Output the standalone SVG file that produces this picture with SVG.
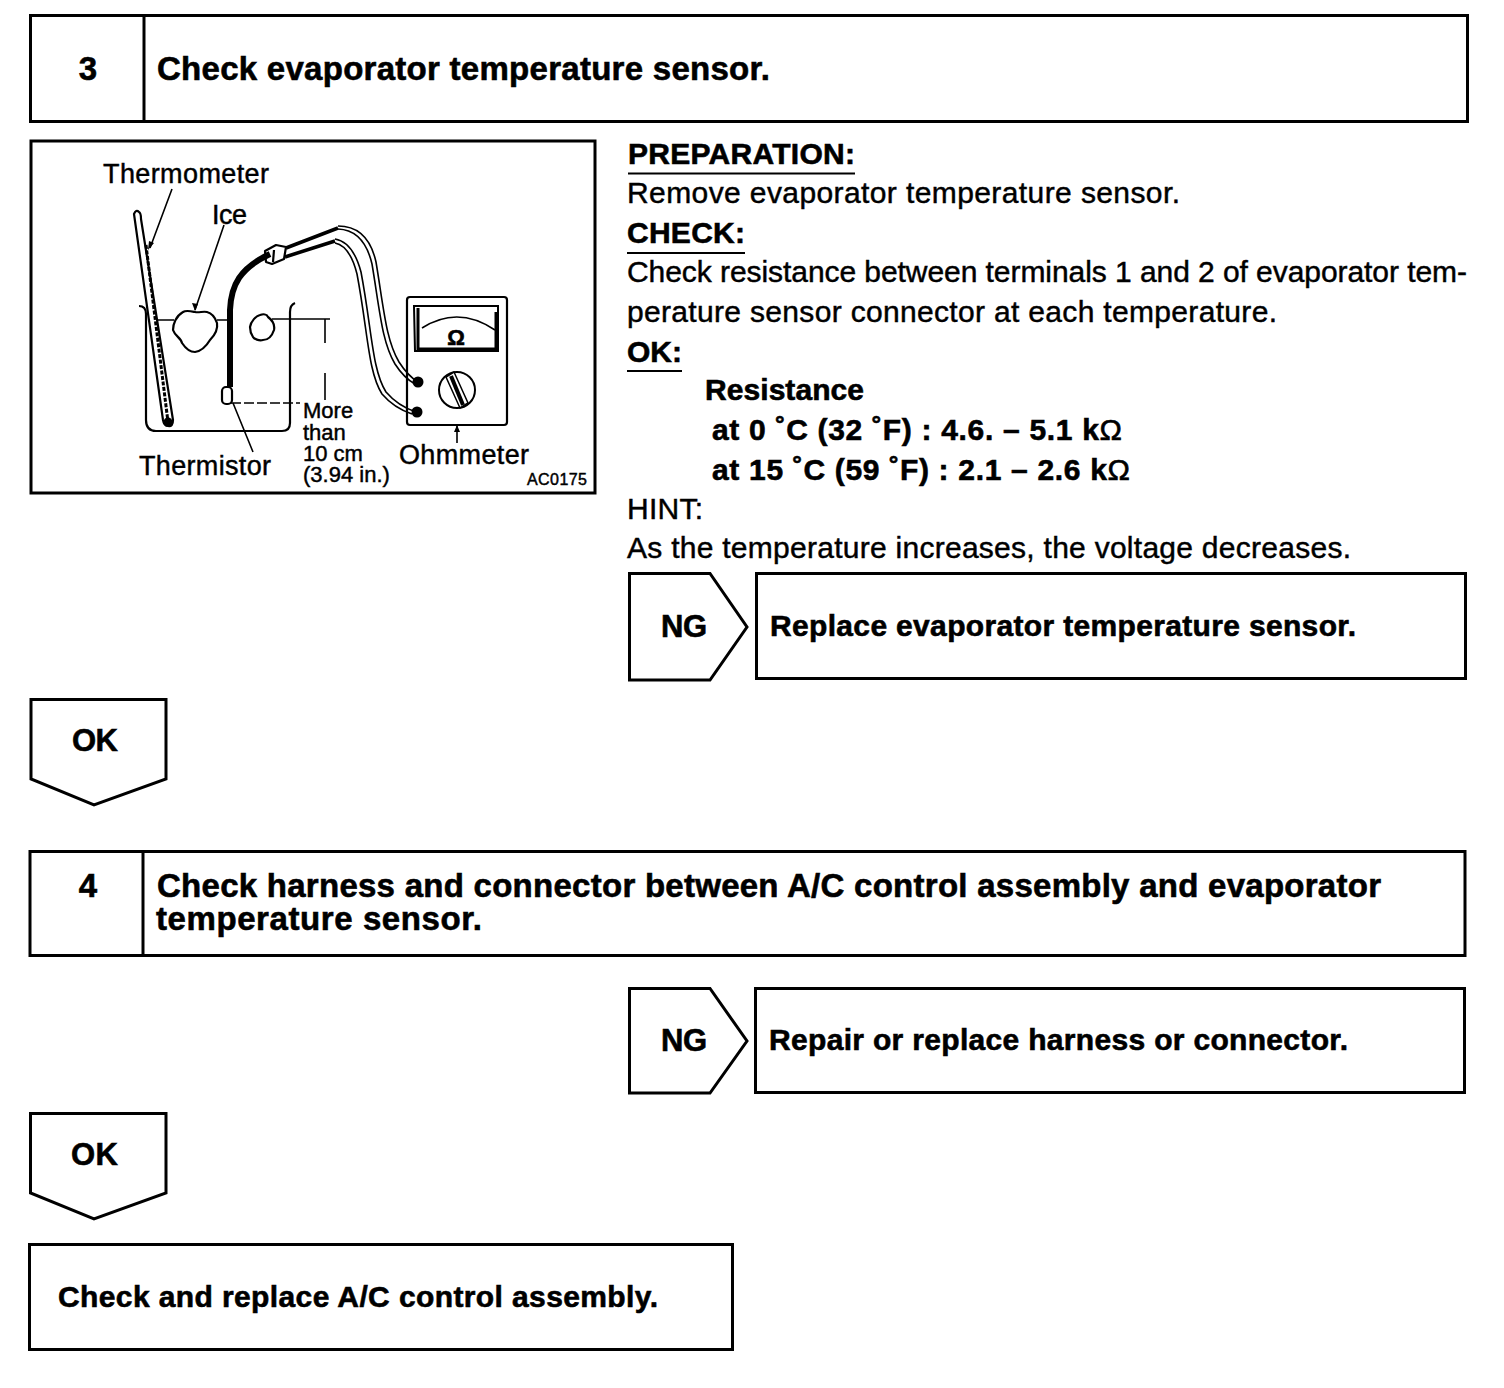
<svg xmlns="http://www.w3.org/2000/svg" width="1504" height="1388" viewBox="0 0 1504 1388">
<style>
text{font-family:"Liberation Sans",Arial,sans-serif;fill:#000;stroke:#000;stroke-width:.45}
.b{font-weight:700;stroke-width:.6}
.t{font-size:33px}
.r{font-size:30px}
.k{font-size:31px}
.s{font-size:27px}
.m{font-size:22px}
.box{fill:#fff;stroke:#000;stroke-width:3}
.thin{fill:none;stroke:#000;stroke-width:1.6}
.med{fill:none;stroke:#000;stroke-width:2.2;stroke-linejoin:round}
.u{stroke:#000;stroke-width:2}
.g{font-weight:400}
</style>
<rect width="1504" height="1388" fill="#fff"/>

<g id="step3">
<rect class="box" x="30.5" y="15.5" width="1437" height="106"/>
<line class="box" x1="144" y1="15" x2="144" y2="122"/>
<text class="b t" x="88" y="80" text-anchor="middle">3</text>
<text class="b t" x="157" y="80" textLength="613">Check evaporator temperature sensor.</text>
</g>

<g id="illustration">
<rect class="box" x="31" y="141" width="564" height="352"/>
<path class="med" d="M134 214 Q136 209 139 212 Q141 213 141 219 L173 420 Q173 427 168 426 Q164 426 163 420 Z" />
<path d="M146 245 L168 422" fill="none" stroke="#000" stroke-width="3" stroke-dasharray="4 1.5"/>
<circle cx="168" cy="422" r="4.5"/>
<path class="med" d="M139 306 Q146 306 146 314 L146 420 Q146 431 156 431 L282 431 Q290 431 290 423 L290 312 Q290 305 295 303"/>
<path class="thin" d="M158 320 H174 M217 320 H229 M272 319 H330"/>
<path class="med" d="M195 312 C190 311 186 310 183 312 C176 316 173 324 173 330 C175 336 181 338 182 343 C186 349 191 352 195 352 C202 351 207 345 210 340 C215 335 218 329 217 323 C215 317 211 313 207 312 C203 311 199 313 195 312 Z"/>
<path class="med" d="M250 327 C251 321 256 316 260 315 C263 314 267 314 268 317 C272 320 275 325 274 330 C272 336 268 340 263 340 C259 341 254 339 253 337 C251 334 250 331 250 327 Z"/>
<path d="M230 387 L230 310 C231 285 240 268 270 254" fill="none" stroke="#000" stroke-width="6"/>
<rect class="med" x="222" y="387" width="10" height="17" rx="4" fill="#fff"/>
<path class="med" d="M265 251 L276 245 L286 247 L284 259 L272 264 L266 262 Z M274 250 L273 262" fill="#fff"/>
<path d="M286 248 L338 228 M285 257 L335 241" fill="none" stroke="#000" stroke-width="3.500"/>
<path class="thin" d="M338 226 Q368 226 376 262 C384 310 386 340 399 362 Q408 376 418 382"/>
<path class="thin" d="M338 229 Q364 230 372 264 C380 312 382 342 395 364 Q404 378 415 384"/>
<path class="thin" d="M335 239 Q353 242 361 272 C372 330 372 370 386 392 Q398 406 416 412"/>
<path class="thin" d="M335 243 Q350 246 357 274 C368 332 368 372 382 394 Q394 408 412 414"/>
<rect class="med" x="407" y="297" width="100" height="128" rx="3"/>
<path d="M414 306 H498 V351 H415 Z" fill="none" stroke="#000" stroke-width="2"/>
<path d="M418 308 V349 H496 V312" fill="none" stroke="#000" stroke-width="3"/>
<path class="thin" d="M422 328 Q458 305 495 330"/>
<circle cx="418" cy="382" r="5.500"/>
<circle cx="417" cy="412" r="5.500"/>
<circle cx="457" cy="390" r="18" fill="#fff" stroke="#000" stroke-width="2"/>
<path d="M446 377 L454 372 L468 403 L460 408 Z" fill="#fff" stroke="#000" stroke-width="1.500"/>
<line x1="451" y1="376" x2="463" y2="405" stroke="#000" stroke-width="4"/>
<text class="b" style="font-size:22px" x="456" y="345" text-anchor="middle">Ω</text>
<path class="thin" d="M231 403 H300" stroke-dasharray="10 3"/>
<text class="s" x="103" y="183" textLength="166">Thermometer</text>
<text class="s" x="212" y="224" textLength="35">Ice</text>
<text class="s" x="139" y="475" textLength="132">Thermistor</text>
<text class="s" x="399" y="464" textLength="130">Ohmmeter</text>
<text class="m"><tspan x="303" y="418">More</tspan><tspan x="303" y="440">than</tspan><tspan x="303" y="461">10 cm</tspan><tspan x="303" y="482">(3.94 in.)</tspan></text>
<text style="font-size:16px" x="527" y="485" textLength="60">AC0175</text>
</g>

<g id="connectors">
<path class="thin" d="M172 189 L150 248 M224 225 L195 310 M233 403 L253 452 M325 319 V343 M325 373 V400 M457 426 V443"/>
<path d="M195 311 L192 303 L198 304 Z M457 425 L454 432 L460 432 Z M148 250 L149 241 L154 243 Z"/>
</g>

<g id="instructions">
<text class="b r" x="628" y="164" textLength="227">PREPARATION:</text>
<line class="u" x1="628" y1="173.500" x2="855" y2="173.500"/>
<text class="r" x="627" y="203" textLength="553">Remove evaporator temperature sensor.</text>
<text class="b r" x="627" y="243" textLength="118">CHECK:</text>
<line class="u" x1="627" y1="253" x2="745" y2="253"/>
<text class="r" x="627" y="282" textLength="840">Check resistance between terminals 1 and 2 of evaporator tem-</text>
<text class="r" x="627" y="322" textLength="650">perature sensor connector at each temperature.</text>
<text class="b r" x="627" y="362" textLength="55">OK:</text>
<line class="u" x1="627" y1="371" x2="682" y2="371"/>
<text class="b r" x="705" y="400" textLength="159">Resistance</text>
<text class="b r" x="712" y="440" textLength="410">at 0 ˚C (32 ˚F) : 4.6. – 5.1 k<tspan class="g">Ω</tspan></text>
<text class="b r" x="712" y="480" textLength="418">at 15 ˚C (59 ˚F) : 2.1 – 2.6 k<tspan class="g">Ω</tspan></text>
<text class="r" x="627" y="519" textLength="76">HINT:</text>
<text class="r" x="627" y="558" textLength="724">As the temperature increases, the voltage decreases.</text>
</g>

<g id="ng1">
<path class="box" d="M629.500 573.500 H710 L747 627 L710 680 H629.500 Z"/>
<text class="b k" x="661" y="637" textLength="46">NG</text>
</g>
<g id="replace-sensor">
<rect class="box" x="756.500" y="573.500" width="709" height="105"/>
<text class="b r" x="770" y="636" textLength="586">Replace evaporator temperature sensor.</text>
</g>
<g id="ok1">
<path class="box" d="M31 699.500 H166 V779 L94 805 L31 779 Z"/>
<text class="b k" x="72" y="751" textLength="46">OK</text>
</g>

<g id="step4">
<rect class="box" x="30" y="851.500" width="1435" height="104"/>
<line class="box" x1="143" y1="851" x2="143" y2="956"/>
<text class="b t" x="88" y="897" text-anchor="middle">4</text>
<text class="b t"><tspan x="157" y="897" textLength="1224">Check harness and connector between A/C control assembly and evaporator</tspan><tspan x="156" y="930" textLength="326">temperature sensor.</tspan></text>
</g>

<g id="ng2">
<path class="box" d="M629.500 988.500 H710 L747 1041 L710 1093 H629.500 Z"/>
<text class="b k" x="661" y="1051" textLength="46">NG</text>
</g>
<g id="repair-harness">
<rect class="box" x="755.500" y="988.500" width="709" height="104"/>
<text class="b r" x="769" y="1050" textLength="579">Repair or replace harness or connector.</text>
</g>
<g id="ok2">
<path class="box" d="M30.500 1113.500 H166 V1193 L94 1219 L30.500 1193 Z"/>
<text class="b k" x="71" y="1165" textLength="47">OK</text>
</g>
<g id="replace-control">
<rect class="box" x="29.500" y="1244.500" width="703" height="105"/>
<text class="b r" x="58" y="1307" textLength="600">Check and replace A/C control assembly.</text>
</g>
</svg>
